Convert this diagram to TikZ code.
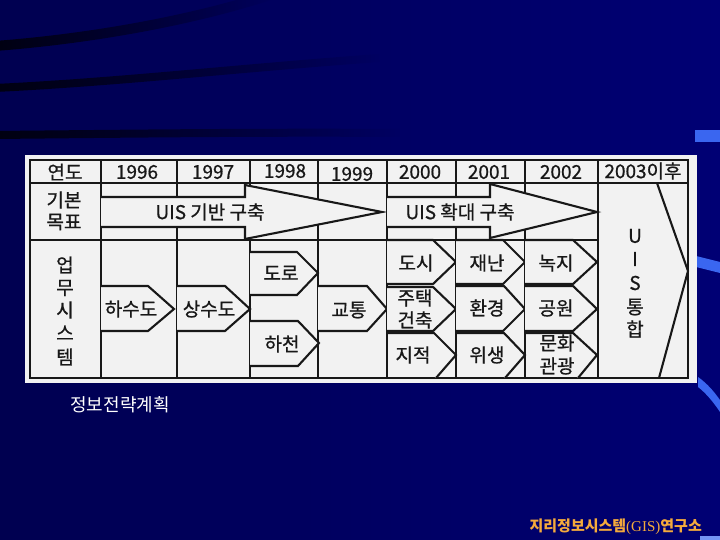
\documentclass[tikz,border=0pt]{standalone}
\usepackage{fontspec}
\setmainfont{Noto Sans CJK KR}
\newfontfamily\krmed[FakeBold=0.8]{Noto Sans CJK KR}
\newfontfamily\gisserif{Liberation Serif}
\usetikzlibrary{fadings}
\definecolor{bgL}{HTML}{000050}
\definecolor{bgR}{HTML}{000074}
\definecolor{swoosh}{HTML}{000010}
\definecolor{accent}{HTML}{3A66F0}
\definecolor{paper}{HTML}{F2F2F2}
\definecolor{ink}{HTML}{181818}
\definecolor{gold}{HTML}{F4AA3C}
\begin{document}
\begin{tikzpicture}[x=1pt,y=-1pt,
  grid/.style={draw=ink,line width=2.1pt},
  chev/.style={draw=ink,line width=2.1pt,fill=paper,line join=miter},
  tx/.style={font=\krmed\fontsize{19}{21}\selectfont,text=ink,inner sep=0pt},
  swooshline/.style={draw=swoosh,path fading=east}]
\useasboundingbox (0,0) rectangle (720,540);
\shade[left color=bgL,right color=bgR] (0,0) rectangle (720,540);
% dark swooshes
\draw[swooshline,line width=10pt] (-5,46) .. controls (100,38) and (200,18) .. (270,-5);
\draw[swooshline,line width=8pt] (-5,88) .. controls (120,82) and (240,68) .. (380,58);
\draw[swooshline,line width=8pt] (-5,135) .. controls (100,134) and (250,132) .. (400,133);
% blue accents
\fill[accent] (695,130) rectangle (720,142);
\fill[accent] (696,256) -- (720,262) -- (720,273) -- (696,267) -- cycle;
\fill[accent] (698,377) .. controls (708,384) and (715,393) .. (720,400) -- (720,412) .. controls (714,403) and (706,393) .. (698,387) -- cycle;
\fill[accent!70] (700,536) rectangle (720,540);

% table paper
\fill[paper] (25,155) rectangle (697,383);
% grid
\draw[grid] (30,160) rectangle (688,378);
\draw[grid] (30,183) -- (688,183);
\draw[grid] (30,240) -- (598,240);
\foreach \x in {101,177,250,318,387,456,525,598}
  \draw[grid] (\x,160) -- (\x,378);

% row 2 arrows
\draw[chev] (101,197) -- (245,197) -- (245,185) -- (382,212) -- (245,239) -- (245,227) -- (101,227);
\draw[chev] (387,197) -- (490,197) -- (490,184) -- (597,212) -- (490,238) -- (490,227) -- (387,227);
% 2003 chevron
\draw[grid,line join=miter] (657,183) -- (688,271) -- (659,378);

% row 3 chevrons
\draw[chev] (101,286) -- (148,286) -- (174,309) -- (148,331) -- (101,331);
\draw[chev] (177,286) -- (225,286) -- (250,309) -- (225,331) -- (177,331);
\draw[chev] (250,252) -- (297,252) -- (318,273) -- (297,295) -- (250,295);
\draw[chev] (250,321) -- (298,321) -- (319,343) -- (298,366) -- (250,366);
\draw[chev] (318,286) -- (367,286) -- (387,309) -- (367,331) -- (318,331);
% 2000
\draw[chev] (387,240) -- (433,240) -- (456,262) -- (433,284) -- (387,284);
\draw[chev] (387,287) -- (433,287) -- (456,309) -- (433,331) -- (387,331);
\draw[chev] (387,333) -- (434,333) -- (456,355) -- (436,378);
% 2001
\draw[chev] (456,240) -- (503,240) -- (525,262) -- (503,284) -- (456,284);
\draw[chev] (456,286) -- (504,286) -- (525,309) -- (503,331) -- (456,331);
\draw[chev] (456,333) -- (504,333) -- (525,355) -- (505,378);
% 2002
\draw[chev] (525,240) -- (573,240) -- (597,262) -- (573,284) -- (525,284);
\draw[chev] (525,286) -- (573,286) -- (597,309) -- (573,331) -- (525,331);
\draw[chev] (525,333) -- (573,333) -- (597,355) -- (578,378);

% header texts
\node[tx] (hy)  at (65,172) {연도};
\node[tx] (h96) at (137,172) {1996};
\node[tx] (h97) at (213,172) {1997};
\node[tx] (h98) at (285,171) {1998};
\node[tx] (h99) at (352,174) {1999};
\node[tx] (h00) at (420,172) {2000};
\node[tx] (h01) at (489,172) {2001};
\node[tx] (h02) at (561,172) {2002};
\node[tx] (h03) at (643,171) {2003이후};
% row 2 texts
\node[tx] (g1) at (64,200) {기본};
\node[tx] (g2) at (64,222) {목표};
\node[tx] (a1) at (210,212) {UIS 기반 구축};
\node[tx] (a2) at (460,212) {UIS 확대 구축};
% row 3 side label
\node[tx] (s1) at (65,265) {업};
\node[tx] (s2) at (65,288) {무};
\node[tx] (s3) at (65,310) {시};
\node[tx] (s4) at (65,333) {스};
\node[tx] (s5) at (65,357) {템};
% 2003 column
\node[tx] (u1) at (635,236) {U};
\node[tx] (u2) at (635,259) {I};
\node[tx] (u3) at (635,283) {S};
\node[tx] (u4) at (635,307) {통};
\node[tx] (u5) at (635,329) {합};
% row 3 items
\node[tx] (c1) at (131,309) {하수도};
\node[tx] (c2) at (209,309) {상수도};
\node[tx] (c3) at (281,273) {도로};
\node[tx] (c4) at (282,344) {하천};
\node[tx] (c5) at (349,310) {교통};
\node[tx] (c6) at (416,263) {도시};
\node[tx] (c7a) at (415,298) {주택};
\node[tx] (c7b) at (415,320) {건축};
\node[tx] (c8) at (413,355) {지적};
\node[tx] (c9) at (487,263) {재난};
\node[tx] (c10) at (487,308) {환경};
\node[tx] (c11) at (487,355) {위생};
\node[tx] (c12) at (556,263) {녹지};
\node[tx] (c13) at (556,308) {공원};
\node[tx] (c14a) at (557,343) {문화};
\node[tx] (c14b) at (557,366) {관광};

% caption and footer
\node[inner sep=0pt,text=white,font=\fontsize{18}{20}\selectfont] (cap) at (120,405) {정보전략계획};
\node[inner sep=0pt,text=gold,font=\bfseries\fontsize{15}{17}\selectfont,anchor=east] (foot) at (702,527) {지리정보시스템{\gisserif\mdseries(GIS)}연구소};
\end{tikzpicture}
\end{document}
